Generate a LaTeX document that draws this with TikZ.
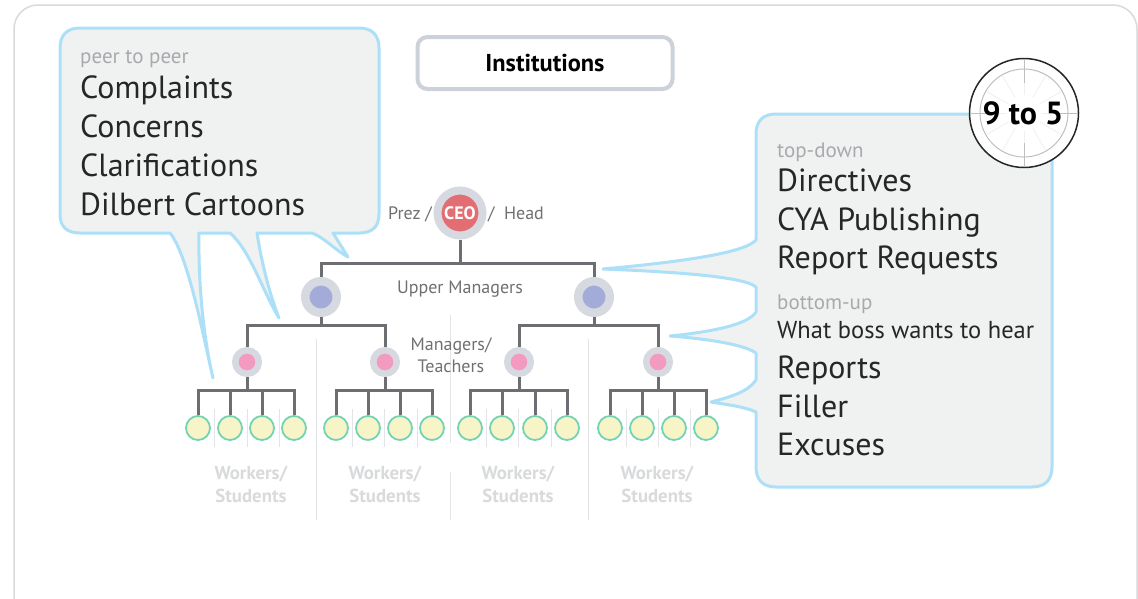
\documentclass[tikz,border=0pt]{standalone}
\usepackage{fontspec}
\setmainfont{PT Sans}
\definecolor{bubblefill}{HTML}{F0F2F2}
\definecolor{bubbleline}{HTML}{ABE0F8}
\definecolor{treeline}{HTML}{6D6E71}
\definecolor{ringgray}{HTML}{D7D9E1}
\definecolor{titleline}{HTML}{CDD1D9}
\definecolor{ceored}{HTML}{E26D72}
\definecolor{upperblue}{HTML}{A3ACD9}
\definecolor{managerpink}{HTML}{F29BBF}
\definecolor{workerfill}{HTML}{F7F5C8}
\definecolor{workerline}{HTML}{74D3B4}
\definecolor{sepgray}{HTML}{E3E4E5}
\definecolor{labelgray}{HTML}{6F7072}
\definecolor{softgray}{HTML}{A7A9AC}
\definecolor{faintgray}{HTML}{D8DADB}
\tikzset{
	bubble/.style={fill=bubblefill,draw=bubbleline,line width=3pt,line join=round},
	tree/.style={draw=treeline,line width=3pt},
	sep/.style={draw=sepgray,line width=1pt},
	ceonode/.style={circle,inner sep=0pt,minimum size=45pt,fill=ceored,draw=ringgray,line width=8pt},
	uppernode/.style={circle,inner sep=0pt,minimum size=31.5pt,fill=upperblue,draw=ringgray,line width=8.5pt},
	managernode/.style={circle,inner sep=0pt,minimum size=23.5pt,fill=managerpink,draw=ringgray,line width=6.5pt},
	workernode/.style={circle,inner sep=0pt,minimum size=24pt,fill=workerfill,draw=workerline,line width=1.8pt},
	big/.style={anchor=base west,inner sep=0pt,text=black!85,font=\fontsize{32}{32}\selectfont},
	small/.style={anchor=base west,inner sep=0pt,text=softgray,font=\fontsize{21}{21}\selectfont},
	orglabel/.style={inner sep=0pt,anchor=base,text=labelgray,font=\fontsize{18}{18}\selectfont},
	workerlabel/.style={inner sep=0pt,anchor=base,text=faintgray,font=\bfseries\fontsize{18.8}{18.8}\selectfont},
}
\begin{document}
\begin{tikzpicture}[x=1pt,y=-1pt,line cap=butt]
	\useasboundingbox (0,0) rectangle (1138,598);
	\clip (0,0) rectangle (1138,598);
	\fill[white] (0,0) rectangle (1138,598);
	% frame
	\draw[draw=faintgray,line width=1.5pt,rounded corners=24pt] (14,625) rectangle (1137,5);
	% title
	\node[draw=titleline,line width=4pt,rounded corners=10pt,minimum width=255pt,minimum height=52pt,inner sep=0pt,font=\bfseries\fontsize{24.4}{24.4}\selectfont] (title) at (545,63) {Institutions};
	% left bubble
	\draw[bubble] (80,28) -- (359,28)
		.. controls (372,28) and (379,35) .. (379,48)
		-- (379,214)
		.. controls (379,227) and (372,233) .. (359,233)
		-- (333,233) -- (348,257)
		.. controls (335,250) and (325,238) .. (312,233)
		-- (257,233)
		.. controls (262,265) and (270,295) .. (279,318)
		.. controls (262,290) and (250,250) .. (230,233)
		-- (199,233)
		.. controls (198,290) and (205,345) .. (213,378)
		.. controls (203,335) and (188,255) .. (170,233)
		-- (80,233)
		.. controls (67,233) and (60,227) .. (60,214)
		-- (60,48)
		.. controls (60,35) and (67,28) .. (80,28) -- cycle;
	% right bubble
	\draw[bubble] (776,114) -- (1032,114)
		.. controls (1045,114) and (1052,121) .. (1052,134)
		-- (1052,467)
		.. controls (1052,480) and (1045,487) .. (1032,487)
		-- (776,487)
		.. controls (763,487) and (756,480) .. (756,467)
		-- (756,412)
		.. controls (745,407) and (730,405) .. (711,402)
		.. controls (730,397) and (748,392) .. (756,380)
		-- (756,353)
		.. controls (745,345) and (710,339) .. (670,336)
		.. controls (710,332) and (748,325) .. (756,312)
		-- (756,287)
		.. controls (745,277) and (680,272) .. (603,269)
		.. controls (680,262) and (745,253) .. (756,240)
		-- (756,134)
		.. controls (756,121) and (763,114) .. (776,114) -- cycle;
	% separators
	\draw[sep] (316,339)--(316,520);
	\draw[sep] (450,315)--(450,443);
	\draw[sep] (450,472)--(450,520);
	\draw[sep] (588,339)--(588,520);
	\foreach \x in {214,247,279,352,384,417,486,518,551,626,658,690}
		\draw[sep] (\x,409)--(\x,447);
	% tree
	\node[ceonode] (ceo) at (460,213) {};
	\node[uppernode] (upperA) at (321,297) {};
	\node[uppernode] (upperB) at (594,297) {};
	\node[managernode] (mgrA) at (247,362) {};
	\node[managernode] (mgrB) at (385,362) {};
	\node[managernode] (mgrC) at (519,362) {};
	\node[managernode] (mgrD) at (658,362) {};
	\coordinate (busCeo) at (460,263);
	\coordinate (busA) at (321,325);
	\coordinate (busB) at (594,325);
	\draw[tree] (ceo.south)--(busCeo);
	\draw[tree] (upperA.north)|-(busCeo)-|(upperB.north);
	\draw[tree] (upperA.south)--(busA);
	\draw[tree] (upperB.south)--(busB);
	\draw[tree] (mgrA.north)|-(busA)-|(mgrB.north);
	\draw[tree] (mgrC.north)|-(busB)-|(mgrD.north);
	\foreach \m/\a/\b/\c/\d in {mgrA/198/230/262/294,mgrB/336/368/400/432,mgrC/470/502/535/567,mgrD/610/642/674/706}{
		\node[workernode] (\m w1) at (\a,428) {};
		\node[workernode] (\m w2) at (\b,428) {};
		\node[workernode] (\m w3) at (\c,428) {};
		\node[workernode] (\m w4) at (\d,428) {};
		\coordinate (\m bus) at (\m|-0,390);
		\draw[tree] (\m.south)--(\m bus);
		\draw[tree] (\m w1.north)|-(\m bus)-|(\m w4.north);
		\draw[tree] (\m w2.north)--(\m w2.north|-\m bus);
		\draw[tree] (\m w3.north)--(\m w3.north|-\m bus);
	}
	% clock
	\node[circle,fill=white,draw=black!85,line width=1.5pt,minimum size=109pt,inner sep=0pt] (clock) at (1024,113) {};
	\foreach \a in {0,30,...,330}
		\draw[black!6,line width=.8pt] (clock.center)++(\a:18)--++(\a:25);
	\foreach \a in {0,90,180,270}
		\draw[black!25,line width=1pt] (clock.center)++(\a:30)--++(\a:24);
	\node[circle,draw=black!25,line width=1pt,minimum size=88pt,inner sep=0pt] (clockring) at (clock.center) {};
	\node[inner sep=0pt,text=black,font=\bfseries\fontsize{32}{32}\selectfont] (clocktext) at (1023,113) {9 to 5};
	% texts
	\node[inner sep=0pt,text=white,font=\bfseries\fontsize{18}{18}\selectfont] (ceotext) at (ceo) {CEO};
	\node[orglabel] (prez) at (410,219) {Prez /};
	\node[orglabel] (head) at (516,219) {/ \ Head};
	\node[orglabel] (upperlabel) at (460,293) {Upper Managers};
	\node[orglabel] (mgrlabel) at (451,350) {Managers/};
	\node[orglabel] (teachlabel) at (451,372) {Teachers};
	\foreach \n/\x in {a/251,b/385,c/518,d/657}{
		\node[workerlabel] (work\n) at (\x,479) {Workers/};
		\node[workerlabel] (stud\n) at (\x,502) {Students};
	}
	\node[small] (peer) at (80,63) {peer to peer};
	\node[big] (complaints) at (80,98) {Complaints};
	\node[big] (concerns) at (80,137) {Concerns};
	\node[big] (clarif) at (80,176) {Clarifications};
	\node[big] (dilbert) at (80,215) {Dilbert Cartoons};
	\node[small] (topdown) at (777,157) {top-down};
	\node[big] (directives) at (777,191) {Directives};
	\node[big] (cya) at (777,230) {CYA Publishing};
	\node[big] (requests) at (777,268) {Report Requests};
	\node[small] (bottomup) at (777,309) {bottom-up};
	\node[big,font=\fontsize{24.5}{25}\selectfont] (boss) at (777,338) {What boss wants to hear};
	\node[big] (reports) at (777,378) {Reports};
	\node[big] (filler) at (777,417) {Filler};
	\node[big] (excuses) at (777,455) {Excuses};
\end{tikzpicture}
\end{document}
